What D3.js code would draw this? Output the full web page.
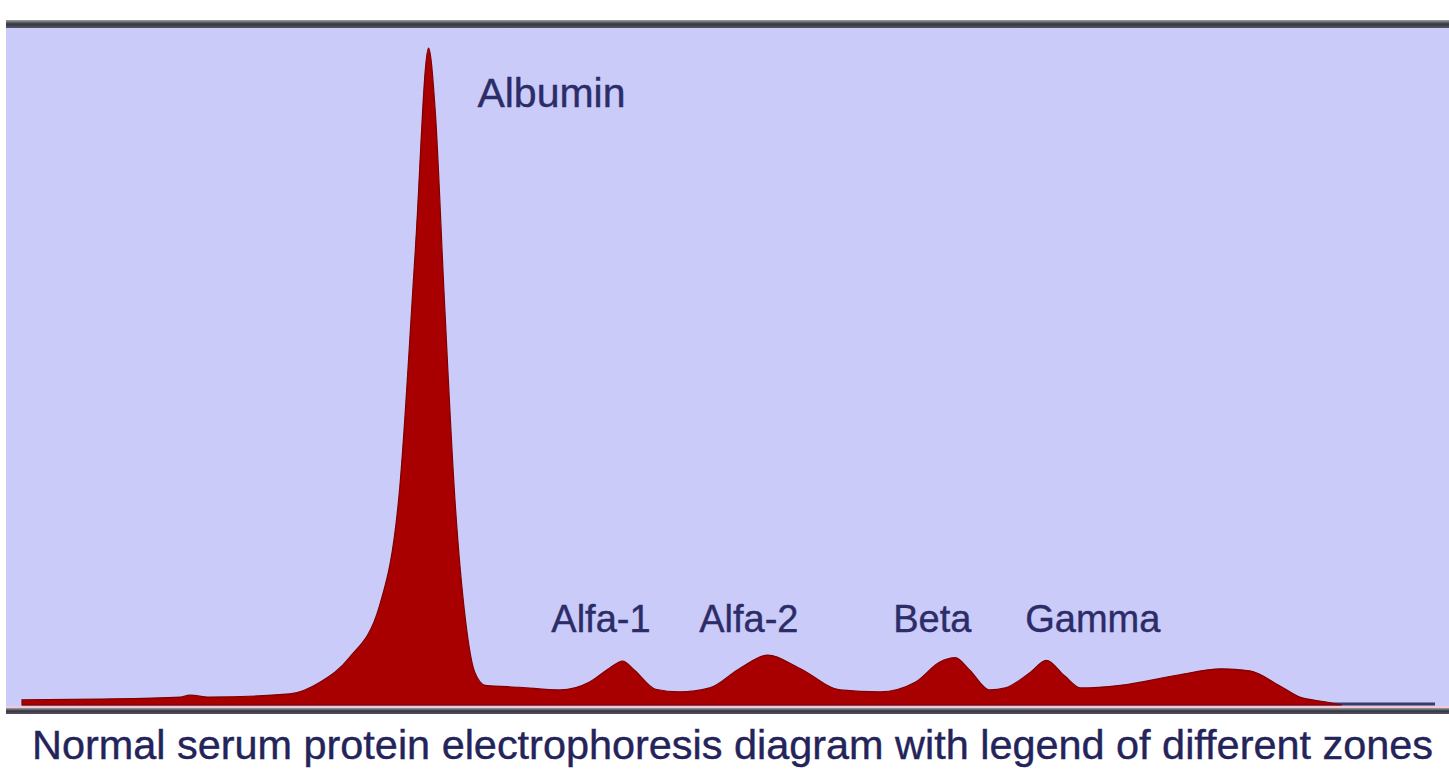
<!DOCTYPE html>
<html>
<head>
  <title>Serum protein electrophoresis</title>
  <meta charset="utf-8">
  <style>
  body { margin: 0; background: #fff; }
  .zone-label {
    font-family: "Liberation Sans", Arial, sans-serif;
    font-size: 38px;
    fill: #2c2c68;
    stroke: #2c2c68;
    stroke-width: 0.4px;
  }
  .caption {
    font-family: "Liberation Sans", Arial, sans-serif;
    font-size: 40px;
    fill: #24245a;
    stroke: #24245a;
    stroke-width: 0.4px;
  }
  </style>
</head>
<body>
<svg width="1449" height="776"></svg>
<script src="https://d3js.org/d3.v7.min.js"></script>
<script>

// densitometry trace: relative mobility (0-100) and relative density (0-100)
var mobility = [0, 5.9, 12.0, 12.7, 14.2, 20.3, 22.6, 24.8, 27.1, 28.6, 29.8, 30.8, 31.3, 32.0,
  32.8, 33.6, 34.3, 35.1, 37.7, 40.8, 43.0, 44.5, 45.5, 46.4, 48.0, 49.8, 52.1, 54.4, 56.5,
  58.9, 62.0, 65.0, 67.7, 69.5, 70.7, 71.8, 73.3, 74.5, 76.4, 77.6, 79.0, 80.2, 83.2, 87.7,
  90.8, 93.0, 95.3, 96.8, 98.7, 100];
var density = [0.8, 0.9, 1.2, 1.5, 1.2, 1.7, 3.5, 7.2, 15.2, 32.7, 69.3, 100, 90.6, 61.6,
  31.2, 12.9, 5.0, 3.0, 2.7, 2.3, 3.5, 5.6, 6.7, 5.3, 2.4, 2.0, 2.6, 5.6, 7.6,
  5.6, 2.3, 2.0, 3.5, 6.5, 7.2, 5.3, 2.3, 2.6, 5.0, 6.8, 4.4, 2.6, 3.0, 4.6,
  5.5, 5.2, 2.9, 1.2, 0.5, 0];

// zone labels: name, mobility of label start, density of label baseline
var zones = ["Albumin", "Alfa-1", "Alfa-2", "Beta", "Gamma"];
var zoneX = [34.5, 40.1, 51.3, 66.0, 76.0];
var zoneY = [91.0, 11.1, 11.1, 11.1, 11.1];
var zoneSize = [41, 38, 38, 38, 38];

var caption = "Normal serum protein electrophoresis diagram with legend of different zones";

var svg = d3.select("svg"),
    width = +svg.attr("width"),
    height = +svg.attr("height");

var x = d3.scaleLinear().domain([0, 100]).range([22, 1342]);
var y = d3.scaleLinear().domain([0, 100]).range([705, 48]);

var trace = mobility.map(function(m, i) { return {m: m, d: density[i]}; });

// frame: top bar, lavender panel, bottom bar
var grad = svg.append("defs").append("linearGradient")
    .attr("id", "bar").attr("x1", 0).attr("y1", 0).attr("x2", 0).attr("y2", 1);
grad.append("stop").attr("offset", "0%").attr("stop-color", "#a0a0a8");
grad.append("stop").attr("offset", "50%").attr("stop-color", "#34343c");
grad.append("stop").attr("offset", "100%").attr("stop-color", "#55556a");

svg.append("rect")
    .attr("x", 6).attr("y", 27).attr("width", width - 6).attr("height", 681)
    .attr("fill", "#cbcbf9");

svg.append("rect")
    .attr("x", 6).attr("y", 20).attr("width", width - 6).attr("height", 8)
    .attr("fill", "url(#bar)");

// baseline of the scan
svg.append("line")
    .attr("x1", x(0)).attr("x2", 1435)
    .attr("y1", y(0) - 1).attr("y2", y(0) - 1)
    .attr("stroke", "#3b3b68").attr("stroke-width", 3);

var area = d3.area()
    .x(function(d) { return x(d.m); })
    .y0(y(0))
    .y1(function(d) { return y(d.d); })
    .curve(d3.curveMonotoneX);

svg.append("path")
    .datum(trace)
    .attr("d", area)
    .attr("fill", "#a80000")
    .attr("stroke", "#800000")
    .attr("stroke-width", 1.2);

svg.append("line")
    .attr("x1", 6).attr("x2", width)
    .attr("y1", 707).attr("y2", 707)
    .attr("stroke", "#f0c8d8").attr("stroke-width", 2);

svg.append("rect")
    .attr("x", 6).attr("y", 708).attr("width", width - 6).attr("height", 6)
    .attr("fill", "url(#bar)");

svg.selectAll(".zone-label")
    .data(zones)
  .enter().append("text")
    .attr("class", "zone-label")
    .attr("x", function(d, i) { return x(zoneX[i]); })
    .attr("y", function(d, i) { return y(zoneY[i]); })
    .style("font-size", function(d, i) { return zoneSize[i] + "px"; })
    .text(function(d) { return d; });

svg.append("text")
    .attr("class", "caption")
    .attr("x", 32)
    .attr("y", 759)
    .attr("textLength", 1401)
    .attr("lengthAdjust", "spacingAndGlyphs")
    .text(caption);

</script>
</body>
</html>
